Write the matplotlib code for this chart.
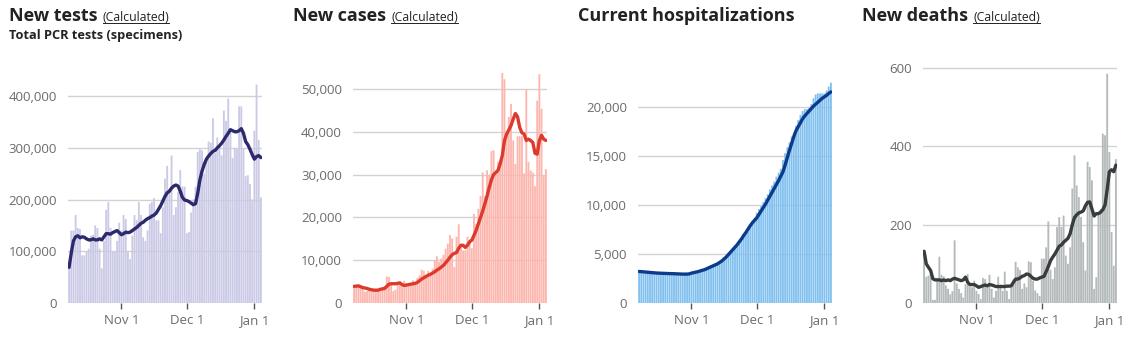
import numpy as np
import pandas as pd
import matplotlib
matplotlib.use("Agg")
import matplotlib.pyplot as plt
from matplotlib.ticker import FuncFormatter
from matplotlib.lines import Line2D

plt.rcParams['font.family'] = ['Open Sans', 'DejaVu Sans']

# daily values Oct 8 2020 - Jan 4 2021
dates = pd.date_range('2020-10-08', '2021-01-04', freq='D')

tests = [70000, 140000, 140000, 170000, 145000, 143000, 92000, 92000, 100000, 105000,
         130000, 132000, 150000, 145000, 105000, 67000, 120000, 180000, 195000, 145000,
         100000, 100000, 120000, 155000,
         140000, 170000, 162000, 100000, 85000, 130000, 170000, 160000, 195000, 170000,
         127000, 120000, 140000, 192000, 195000, 203000, 160000, 160000, 135000, 185000,
         240000, 265000, 220000, 285000, 170000, 185000, 215000, 257000, 225000, 225000,
         135000, 137000, 175000, 200000, 225000, 292000, 297000, 295000, 250000, 280000,
         312000, 310000, 357000, 290000, 320000, 305000, 285000, 372000, 352000, 395000,
         330000, 280000, 300000, 298000, 380000, 380000, 300000, 245000, 247000, 230000,
         200000,
         333000, 422000, 315000, 204000]
tests_avg = [69000, 97000, 120000, 128000, 130000, 126000, 128000, 127000, 124000, 122000,
             122000, 124000, 122000, 122000, 124000, 122000, 128000, 134000, 134000, 133000,
             136000, 138000, 140000, 136000,
             132000, 134000, 137000, 136000, 137000, 140000, 143000, 146000, 150000, 154000,
             156000, 160000, 163000, 165000, 168000, 170000, 174000, 181000, 188000, 197000,
             206000, 213000, 216000, 222000, 226000, 228000, 226000, 216000, 204000, 199000,
             198000, 196000, 193000, 190000, 192000, 212000, 238000, 255000, 268000, 278000,
             284000, 289000, 293000, 295000, 300000, 304000, 309000, 315000, 322000, 328000,
             335000, 333000, 331000, 331000, 333000, 337000, 328000, 312000, 306000, 297000,
             287000,
             278000, 283000, 285000, 281000]

cases = [3900, 4000, 4000, 3700, 3400, 2600, 2800, 3000, 3100, 3000,
         3000, 3100, 3400, 3600, 3900, 6200, 6100, 4500, 2800, 3100,
         4500, 4900, 4700, 5200,
         4500, 4500, 4400, 5300, 4900, 5900, 6500, 7800, 7500, 6400,
         7500, 7000, 8000, 10000, 10900, 9600, 10400, 11300, 12700, 13900,
         15900, 15100, 8400, 15500, 18400, 13100, 12300, 12300, 15500, 14800,
         12800, 20800, 18500, 22000, 25000, 30500, 25000, 31000, 30000, 35500,
         35700, 30000, 33000, 33300, 53800, 52300, 40000, 43500, 46500, 38000,
         32500, 39000, 39000, 39000, 30300, 50000, 33000, 31000, 30500, 27300,
         47300,
         53500, 45400, 29700, 31300]
cases_avg = [3900, 3950, 4000, 3800, 3600, 3500, 3400, 3200, 3100, 3000,
             3000, 3000, 3200, 3300, 3400, 3900, 4400, 4500, 4500, 4500,
             4600, 4700, 4300, 4100,
             4200, 4300, 4400, 4500, 4600, 4800, 5200, 5600, 5900, 6200,
             6500, 6700, 7000, 7300, 7700, 8000, 8400, 8800, 9400, 10000,
             10700, 11300, 11600, 11800, 12800, 13500, 13500, 13000, 13500, 14300,
             14700, 15800, 17000, 18500, 20000, 21500, 23200, 25000, 27000, 28800,
             30000, 30500, 31000, 32500, 34500, 38000, 39500, 40500, 41500, 43000,
             44300, 43500, 41000, 39800, 39500, 38000, 38300, 38000, 37500, 35000,
             34800,
             38000, 39200, 38300, 38000]

hosp = [3250, 3200, 3200, 3150, 3150, 3100, 3100, 3050, 3050, 3000,
        3000, 3000, 3000, 3000, 3000, 3000, 2950, 2950, 2950, 2950,
        2950, 2950, 2950, 3000,
        3050, 3100, 3150, 3200, 3300, 3350, 3400, 3500, 3600, 3700,
        3850, 3950, 4000, 4150, 4300, 4450, 4600, 4800, 5100, 5350,
        5600, 5800, 6200, 6600, 7000, 7100, 7300, 7800, 8200, 8700,
        9200, 9600, 9900, 10300, 10700, 11100, 11600, 12000, 12400, 12900,
        13300, 13700, 14600, 15300, 15900, 16400, 17000, 17400, 18100, 18700,
        19200, 19600, 19800, 19800, 19900, 20300, 20900, 21300, 21400, 21400,
        21400,
        21400, 21700, 22100, 22500]
hosp_avg = [3220, 3200, 3180, 3160, 3140, 3120, 3100, 3080, 3060, 3050,
            3040, 3030, 3020, 3010, 3000, 3000, 2990, 2980, 2970, 2960,
            2950, 2950, 2950, 2970,
            3050, 3100, 3150, 3200, 3270, 3340, 3400, 3500, 3600, 3700,
            3800, 3900, 4000, 4150, 4300, 4500, 4700, 4950, 5200, 5450,
            5700, 5950, 6250, 6550, 6900, 7200, 7550, 7900, 8200, 8450,
            8700, 9050, 9400, 9750, 10100, 10500, 10900, 11300, 11700, 12100,
            12500, 12950, 13400, 14100, 14850, 15600, 16300, 17000, 17600, 18000,
            18400, 18800, 19100, 19350, 19600, 19850, 20100, 20300, 20500, 20700,
            20900,
            21050, 21200, 21400, 21550]

deaths = [125, 67, 70, 74, 8, 8, 58, 118, 72, 68,
          45, 36, 22, 30, 160, 50, 36, 25, 14, 48,
          74, 42, 40, 57,
          31, 23, 10, 64, 61, 42, 72, 36, 14, 31,
          67, 47, 31, 80, 31, 10, 44, 60, 105, 91,
          84, 36, 50, 40, 106, 104, 57, 32, 25, 18,
          113, 113, 142, 208, 85, 61, 91, 194, 219, 194,
          223, 121, 100, 142, 292, 377, 300, 270, 219, 155,
          83, 360, 347, 313, 36, 66, 228, 240, 432, 428,
          585,
          385, 181, 95, 367]
deaths_avg = [132, 100, 91, 83, 62, 59, 59, 59, 57, 59,
              57, 59, 57, 61, 63, 61, 59, 57, 59, 66,
              53, 47, 47, 47,
              44, 40, 42, 44, 46, 44, 47, 46, 44, 42,
              42, 42, 42, 42, 43, 43, 44, 53, 61, 61,
              64, 68, 70, 74, 73, 68, 63, 61, 61, 64,
              66, 68, 80, 93, 108, 117, 125, 135, 145, 148,
              155, 160, 165, 177, 200, 218, 225, 230, 232, 235,
              248, 257, 258, 240, 222, 228, 228, 232, 238, 250,
              290,
              335, 340, 335, 352]

tick_dates = pd.to_datetime(['2020-11-01', '2020-12-01', '2021-01-01'])
tick_labels = ['Nov 1', 'Dec 1', 'Jan 1']

W, H = 1134, 341
fig = plt.figure(figsize=(W / 100, H / 100), dpi=100)

panels = [
    dict(title='New tests', calc=True, sub='Total PCR tests (specimens)',
         bars=tests, line=tests_avg, bc='#cacae6', lc='#2c2a6c',
         tx=9, x0=68, ytop=80, ymax=431000,
         yt=[0, 100000, 200000, 300000, 400000]),
    dict(title='New cases', calc=True, sub=None,
         bars=cases, line=cases_avg, bc='#fdb6ae', lc='#db3a2c',
         tx=293, x0=353, ytop=72, ymax=54000,
         yt=[0, 10000, 20000, 30000, 40000, 50000]),
    dict(title='Current hospitalizations', calc=False, sub=None,
         bars=hosp, line=hosp_avg, bc='#82c1ef', lc='#0b3b8a',
         tx=578, x0=638, ytop=80, ymax=22770,
         yt=[0, 5000, 10000, 15000, 20000]),
    dict(title='New deaths', calc=True, sub=None,
         bars=deaths, line=deaths_avg, bc='#b4b9b9', lc='#393c3d',
         tx=862, x0=923, ytop=62, ymax=615,
         yt=[0, 200, 400, 600]),
]

ybot = 303
pw = 194
calc_texts = []
for p in panels:
    ax = fig.add_axes([p['x0'] / W, 1 - ybot / H, pw / W, (ybot - p['ytop']) / H])
    bars = ax.bar(dates, p['bars'], width=0.85, color=p['bc'], lw=0, zorder=2)
    for b in bars:
        b.set_snap(False)
    ax.plot(dates, p['line'], color=p['lc'], lw=2.4, zorder=3,
            solid_capstyle='round', solid_joinstyle='round')
    ax.set_xlim(dates[0] - pd.Timedelta(hours=12), dates[-1] + pd.Timedelta(hours=12))
    ax.set_ylim(0, p['ymax'])
    ax.set_yticks(p['yt'])
    ax.yaxis.set_major_formatter(FuncFormatter(lambda v, pos: '{:,.0f}'.format(v)))
    ax.set_xticks(tick_dates)
    ax.set_xticklabels(tick_labels)
    ax.grid(axis='y', color='#d2d2d2', lw=1)
    ax.set_axisbelow(True)
    for s in ax.spines.values():
        s.set_visible(False)
    ax.tick_params(axis='y', length=0, pad=8, labelsize=9.5, labelcolor='#6b6b6b')
    ax.tick_params(axis='x', length=4, width=1, color='#555555', pad=4,
                   labelsize=9.5, labelcolor='#6b6b6b')

    t = fig.text(p['tx'] / W, 1 - 21 / H, p['title'], fontsize=13, fontweight='bold',
                 color='#222222', va='baseline', ha='left')
    if p['sub']:
        fig.text(p['tx'] / W, 1 - 39 / H, p['sub'], fontsize=9.2, fontweight='bold',
                 color='#222222', va='baseline', ha='left')
    if p['calc']:
        calc_texts.append((t, p))

fig.canvas.draw()
renderer = fig.canvas.get_renderer()
for t, p in calc_texts:
    bb = t.get_window_extent(renderer)
    x = bb.x1 + 5
    c = fig.text(x / W, 1 - 21 / H, '(Calculated)', fontsize=8.8, color='#222222',
                 va='baseline', ha='left')
    cb = c.get_window_extent(renderer)
    yline = (H - 21 - 2.2) / H
    fig.add_artist(Line2D([cb.x0 / W, cb.x1 / W], [yline, yline],
                          transform=fig.transFigure, color='#222222', lw=0.7))

fig.savefig('out.png', dpi=100)
